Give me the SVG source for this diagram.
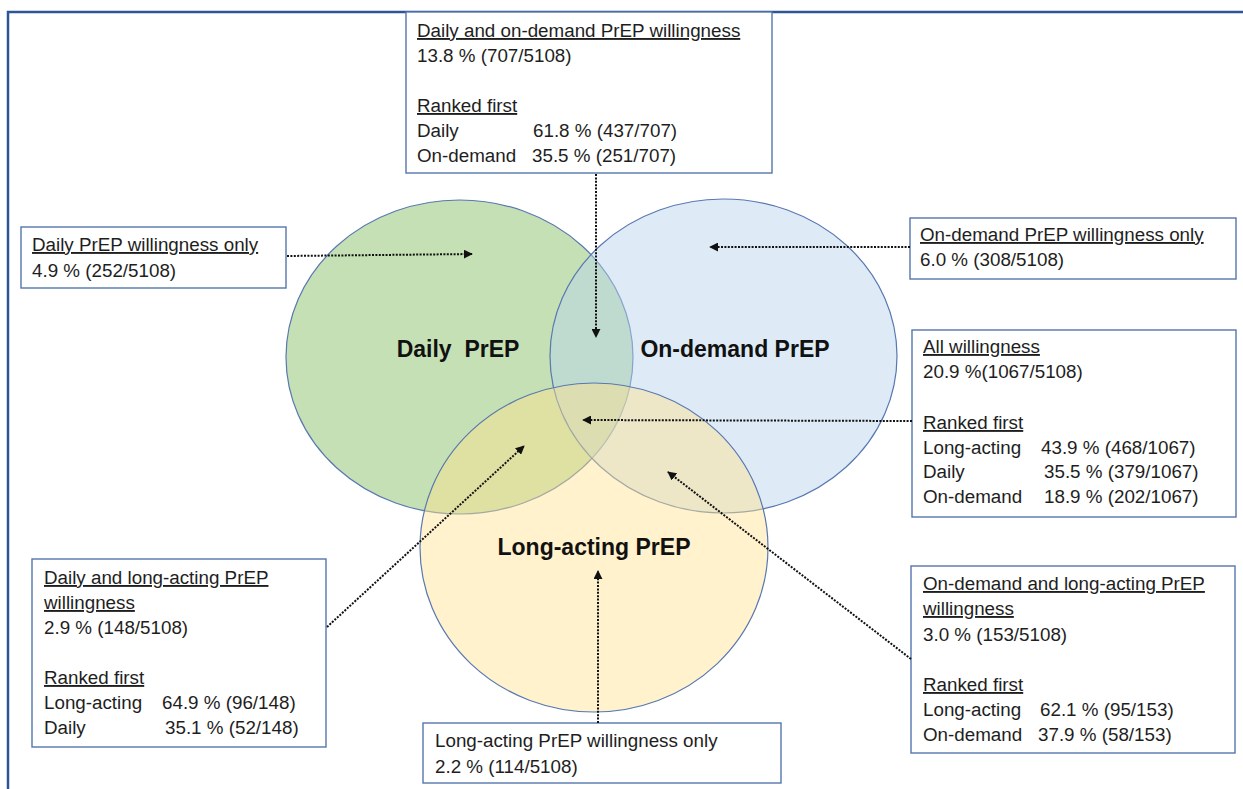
<svg xmlns="http://www.w3.org/2000/svg" width="1243" height="789" viewBox="0 0 1243 789">
<defs>
<style>
.t{font-family:"Liberation Sans",Arial,sans-serif;font-size:18.8px;fill:#1e1e1e}
.u{text-decoration:underline}
.b{font-family:"Liberation Sans",Arial,sans-serif;font-size:23px;font-weight:bold;fill:#111}
.box{fill:#fff;stroke:#5575ad;stroke-width:1.4}
.c{stroke:#5878b0;stroke-width:1.2}
.con{fill:none;stroke:#111;stroke-width:2;stroke-dasharray:2 1.4}
</style>
<marker id="ah" viewBox="0 0 10 10" refX="9" refY="5" markerWidth="9" markerHeight="9" markerUnits="userSpaceOnUse" orient="auto">
<path d="M0,0 L10,5 L0,10 z" fill="#111"/>
</marker>
</defs>
<rect width="1243" height="789" fill="#fff"/>
<path d="M8,789 L8,12 L1243,12" fill="none" stroke="#2f5597" stroke-width="2.5"/>

<g id="circles">
<ellipse id="daily" class="c" cx="459.5" cy="357" rx="173.5" ry="157" fill="#c5e0b4"/>
<ellipse id="ondemand" class="c" cx="723.5" cy="356" rx="173.5" ry="157" fill="#b9d5ee" fill-opacity="0.47"/>
<ellipse id="longacting" class="c" cx="594" cy="547.5" rx="174" ry="164.5" fill="#ffe390" fill-opacity="0.46"/>
<text class="b" x="458" y="357" text-anchor="middle" xml:space="preserve">Daily  PrEP</text>
<text class="b" x="735" y="357" text-anchor="middle">On-demand PrEP</text>
<text class="b" x="594" y="555" text-anchor="middle">Long-acting PrEP</text>
</g>

<g id="box-daily-ondemand">
<rect class="box" x="406" y="12" width="366" height="161"/>
<text class="t u" x="417" y="37">Daily and on-demand PrEP willingness</text>
<text class="t" x="417" y="62">13.8 % (707/5108)</text>
<text class="t u" x="417" y="112">Ranked first</text>
<text class="t" x="417" y="137">Daily</text>
<text class="t" x="533" y="137">61.8 % (437/707)</text>
<text class="t" x="417" y="162">On-demand</text>
<text class="t" x="532" y="162">35.5 % (251/707)</text>
</g>

<g id="box-daily-only">
<rect class="box" x="21" y="227" width="265" height="61"/>
<text class="t u" x="32" y="251">Daily PrEP willingness only</text>
<text class="t" x="32" y="277">4.9 % (252/5108)</text>
</g>

<g id="box-ondemand-only">
<rect class="box" x="910" y="218" width="326" height="61"/>
<text class="t u" x="920" y="241">On-demand PrEP willingness only</text>
<text class="t" x="920" y="266">6.0 % (308/5108)</text>
</g>

<g id="box-all">
<rect class="box" x="912" y="330" width="324" height="187"/>
<text class="t u" x="923" y="353">All willingness</text>
<text class="t" x="923" y="378">20.9 %(1067/5108)</text>
<text class="t u" x="923" y="429">Ranked first</text>
<text class="t" x="923" y="454">Long-acting</text>
<text class="t" x="1041" y="454">43.9 % (468/1067)</text>
<text class="t" x="923" y="478">Daily</text>
<text class="t" x="1044" y="478">35.5 % (379/1067)</text>
<text class="t" x="923" y="503">On-demand</text>
<text class="t" x="1044" y="503">18.9 % (202/1067)</text>
</g>

<g id="box-daily-longacting">
<rect class="box" x="32" y="559" width="294" height="188"/>
<text class="t u" x="44" y="584">Daily and long-acting PrEP</text>
<text class="t u" x="44" y="609">willingness</text>
<text class="t" x="44" y="634">2.9 % (148/5108)</text>
<text class="t u" x="44" y="684">Ranked first</text>
<text class="t" x="44" y="709">Long-acting</text>
<text class="t" x="162" y="709">64.9 % (96/148)</text>
<text class="t" x="44" y="734">Daily</text>
<text class="t" x="165" y="734">35.1 % (52/148)</text>
</g>

<g id="box-longacting-only">
<rect class="box" x="423" y="723" width="358" height="60"/>
<text class="t" x="435" y="747">Long-acting PrEP willingness only</text>
<text class="t" x="435" y="773">2.2 % (114/5108)</text>
</g>

<g id="box-ondemand-longacting">
<rect class="box" x="911" y="566" width="324" height="187"/>
<text class="t u" x="923" y="590">On-demand and long-acting PrEP</text>
<text class="t u" x="923" y="615">willingness</text>
<text class="t" x="923" y="641">3.0 % (153/5108)</text>
<text class="t u" x="923" y="691">Ranked first</text>
<text class="t" x="923" y="716">Long-acting</text>
<text class="t" x="1040" y="716">62.1 % (95/153)</text>
<text class="t" x="923" y="741">On-demand</text>
<text class="t" x="1038" y="741">37.9 % (58/153)</text>
</g>

<g id="connectors">
<path class="con" d="M596,174 L596,337" marker-end="url(#ah)"/>
<path class="con" d="M287,256 L472,254" marker-end="url(#ah)"/>
<path class="con" d="M910,247 L710,247" marker-end="url(#ah)"/>
<path class="con" d="M912,421 L583,420" marker-end="url(#ah)"/>
<path class="con" d="M327,627 L524,446" marker-end="url(#ah)"/>
<path class="con" d="M598,723 L598,571" marker-end="url(#ah)"/>
<path class="con" d="M911,659 L668,472" marker-end="url(#ah)"/>
</g>
</svg>
